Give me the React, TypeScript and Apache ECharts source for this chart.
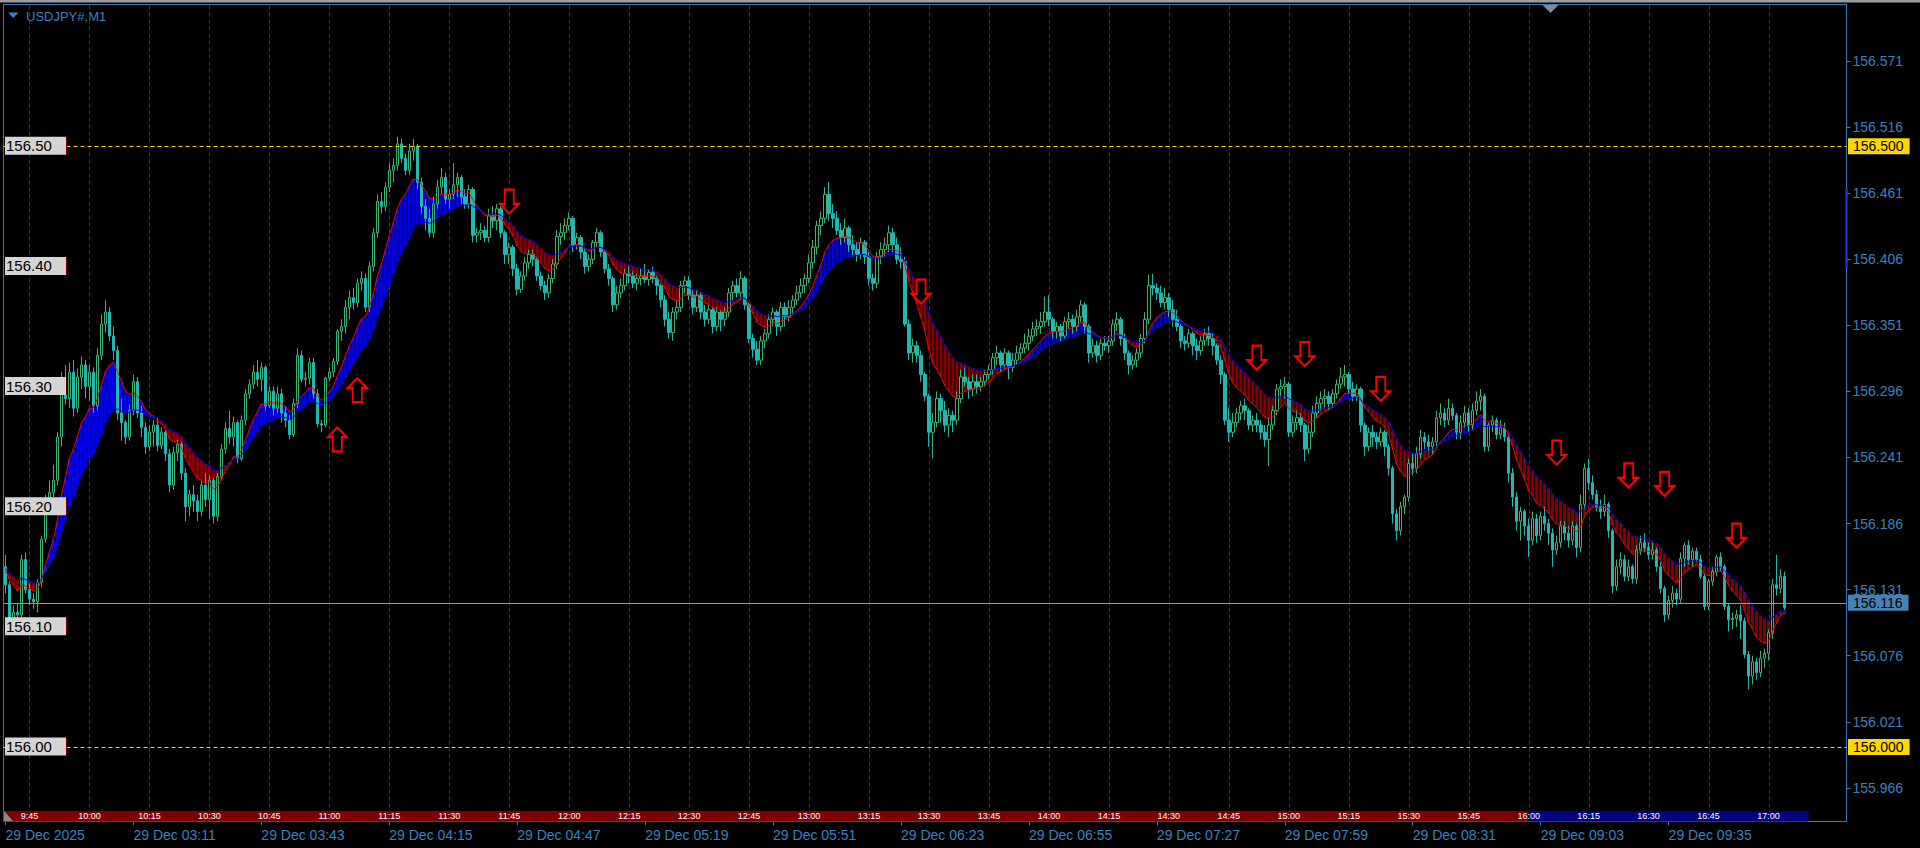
import React, { useEffect, useRef } from "react";
import * as echarts from "echarts";

const SYMBOL_TITLE = "USDJPY#,M1";
const BASE_PRICE = 156.0;
const POINT = 0.001;
const TOTAL_SLOTS = 461;
const Y_MIN = 155.938;
const Y_MAX = 156.618;
const FAST_PERIOD = 10;
const SLOW_PERIOD = 21;

// M1 bars as [open, high, low, close], in points (0.001) above 156.000
const bars0239 = [
  [150,160,128,135],[135,138,96,104],[104,118,95,112],[112,120,105,110],[110,160,108,156],
  [156,162,128,131],[131,136,118,123],[123,128,115,121],[121,140,112,137],[137,176,133,173],
  [173,210,170,206],[206,222,200,212],[212,235,208,222],[222,262,218,258],[258,312,250,305],
  [305,318,285,290],[290,320,282,312],[312,322,275,282],[282,315,278,308],[308,325,298,318],
  [318,322,290,300],[300,318,288,312],[312,316,278,284],[284,332,280,326],[326,360,322,352],
  [352,372,345,362],[362,366,338,342],[342,350,322,330],[330,334,272,278],[278,290,255,270],
  [270,272,252,258],[258,285,255,280],[280,310,276,304],[304,308,274,278],[278,284,258,266],
  [266,270,244,250],[250,268,246,262],[262,272,250,268],[268,274,246,251],[251,266,248,262],
  [262,264,238,244],[244,248,212,218],[218,250,214,245],[245,256,238,252],[252,254,222,228],
  [228,232,188,200],[200,214,192,210],[210,218,196,205],[205,210,188,196],[196,222,192,218],
  [218,228,200,206],[206,226,190,222],[222,224,186,192],[192,228,188,225],[225,252,222,248],
  [248,270,244,265],[265,280,252,258],[258,275,250,270],[270,272,236,240],[240,276,238,272],
];
const bars0339 = [
  [272,298,268,294],[294,306,290,302],[302,318,298,312],[312,322,300,306],[306,320,296,316],
  [316,318,280,284],[284,300,282,296],[296,300,276,282],[282,300,278,294],[294,298,270,278],
  [278,284,266,272],[272,276,256,260],[260,290,258,286],[286,332,282,326],[326,330,304,306],
  [306,312,300,307],[307,324,302,320],[320,324,290,294],[294,298,266,269],[269,272,262,268],
  [268,308,266,307],[307,316,304,312],[312,324,308,321],[321,348,318,346],[346,356,338,350],
  [350,372,344,366],[366,380,356,374],[374,382,364,370],[370,390,366,386],[386,396,380,390],
  [390,394,362,366],[366,404,362,400],[400,432,396,428],[428,460,424,454],[454,462,444,450],
  [450,470,446,466],[466,486,462,480],[480,490,470,484],[484,508,480,502],[502,506,486,490],
  [490,494,476,480],[480,502,476,496],[496,506,488,500],[500,502,464,470],[470,474,444,450],
  [450,456,430,440],[440,448,424,428],[428,458,424,452],[452,472,448,466],[466,482,460,474],
  [474,478,452,456],[456,464,448,460],[460,486,456,468],[468,478,458,474],[474,476,452,458],
  [458,464,448,452],[452,468,448,464],[464,466,420,426],[426,432,420,428],[428,436,422,430],
];
const bars0439 = [
  [430,434,420,424],[424,448,420,442],[442,450,432,438],[438,452,430,448],[448,450,424,428],
  [428,430,402,410],[410,420,402,416],[416,418,392,398],[398,402,376,381],[381,396,378,392],
  [392,408,388,403],[403,414,398,410],[410,414,400,406],[406,408,388,392],[392,396,380,384],
  [384,388,372,378],[378,394,374,390],[390,406,386,402],[402,430,398,425],[425,436,418,428],
  [428,440,422,434],[434,445,430,440],[440,442,412,418],[418,428,414,424],[424,426,406,412],
  [412,416,394,400],[400,410,396,406],[406,422,402,420],[420,432,416,428],[428,430,408,412],
  [412,414,394,398],[398,402,384,390],[390,392,362,368],[368,384,364,378],[378,390,374,384],
  [384,398,380,394],[394,400,386,392],[392,396,382,386],[386,394,380,390],[390,398,384,392],
  [392,402,386,389],[389,398,384,395],[395,400,386,390],[390,392,376,384],[384,386,366,372],
  [372,376,350,356],[356,362,340,345],[345,366,338,362],[362,372,356,366],[366,388,362,384],
  [384,392,378,388],[388,392,372,376],[376,380,360,366],[366,380,362,376],[376,378,356,362],
  [362,368,350,356],[356,368,352,364],[364,366,344,350],[350,366,346,362],[362,364,346,356],
];
const bars0539 = [
  [356,366,350,362],[362,382,358,378],[378,388,372,384],[384,390,374,378],[378,396,372,390],
  [390,392,364,368],[368,370,336,340],[340,344,324,331],[331,338,318,322],[322,342,318,338],
  [338,348,332,344],[344,360,340,356],[356,366,350,362],[362,364,342,350],[350,370,346,366],
  [366,370,350,358],[358,372,354,366],[366,376,360,372],[372,384,368,378],[378,390,374,384],
  [384,394,378,390],[390,410,386,403],[403,422,398,416],[416,438,410,434],[434,446,426,440],
  [440,466,436,460],[460,470,438,444],[444,452,432,440],[440,446,426,430],[430,436,418,424],
  [424,440,420,432],[432,434,412,418],[418,426,408,414],[414,420,404,410],[410,424,406,420],
  [420,422,402,408],[408,412,384,390],[390,394,380,386],[386,412,382,408],[408,420,402,414],
  [414,424,408,418],[418,434,412,428],[428,432,412,418],[418,424,402,406],[406,416,398,404],
  [404,408,350,352],[352,356,322,328],[328,340,320,334],[334,338,320,326],[326,330,304,310],
  [310,312,288,292],[292,294,250,262],[262,278,240,270],[270,296,266,290],[290,294,270,280],
  [280,288,262,268],[268,282,258,276],[276,280,262,272],[272,296,268,290],[290,314,286,308],
];
const bars0639 = [
  [308,316,300,304],[304,308,290,298],[298,310,292,304],[304,310,294,300],[300,308,296,304],
  [304,314,300,310],[310,318,306,314],[314,328,310,324],[324,334,318,328],[328,330,312,318],
  [318,332,314,328],[328,330,306,316],[316,328,312,322],[322,334,318,328],[328,336,322,332],
  [332,344,328,336],[336,348,330,342],[342,354,338,348],[348,356,342,350],[350,362,344,354],
  [354,375,350,362],[362,376,350,356],[356,358,340,346],[346,354,340,350],[350,352,338,342],
  [342,358,340,354],[354,362,348,356],[356,360,344,350],[350,364,346,358],[358,372,354,368],
  [368,370,344,350],[350,352,320,328],[328,340,324,334],[334,338,320,326],[326,340,322,336],
  [336,342,330,334],[334,342,328,338],[338,356,334,352],[352,362,346,356],[356,358,334,340],
  [340,344,322,328],[328,330,310,318],[318,326,314,322],[322,332,316,328],[328,344,324,340],
  [340,362,336,356],[356,393,352,384],[384,394,376,382],[382,386,372,378],[378,384,366,370],
  [370,382,364,374],[374,378,358,364],[364,372,350,356],[356,364,346,350],[350,352,332,338],
  [338,342,330,336],[336,348,332,344],[344,346,326,334],[334,340,322,330],[330,342,326,338],
];
const bars0739 = [
  [338,348,334,344],[344,350,334,340],[340,344,326,334],[334,336,318,322],[322,326,302,310],
  [310,312,268,272],[272,282,254,262],[262,278,258,270],[270,282,266,278],[278,288,272,284],
  [284,290,272,280],[280,282,264,268],[268,276,262,272],[272,278,262,268],[268,272,256,262],
  [262,268,250,256],[256,274,234,268],[268,284,264,280],[280,302,276,298],[298,306,292,300],
  [300,308,290,302],[302,304,258,262],[262,276,258,270],[270,280,264,274],[274,278,262,268],
  [268,270,238,248],[248,268,244,262],[262,284,258,278],[278,292,274,286],[286,296,280,290],
  [290,298,282,292],[292,296,280,286],[286,298,282,294],[294,306,290,302],[302,316,298,308],
  [308,318,300,310],[310,312,294,298],[298,304,288,292],[292,302,288,298],[298,300,262,268],
  [268,270,242,250],[250,266,246,262],[262,268,250,258],[258,262,248,254],[254,266,250,262],
  [262,264,242,250],[250,252,226,232],[232,234,186,194],[194,198,172,180],[180,204,176,200],
  [200,210,194,208],[208,240,204,236],[236,244,226,232],[232,250,228,244],[244,264,240,258],
  [258,262,248,254],[254,260,246,250],[250,258,244,254],[254,280,250,274],[274,286,268,278],
];
const bars0839 = [
  [278,282,266,272],[272,290,268,282],[282,286,272,276],[276,278,256,262],[262,276,256,270],
  [270,284,266,278],[278,282,262,268],[268,286,264,280],[280,296,276,288],[288,298,280,292],
  [292,294,246,250],[250,270,246,268],[268,276,262,272],[272,274,256,260],[260,272,256,266],
  [266,270,254,258],[258,260,220,228],[228,232,200,208],[208,212,180,188],[188,200,172,196],
  [196,198,176,184],[184,190,158,172],[172,196,168,190],[190,194,170,176],[176,196,172,192],
  [192,200,180,186],[186,190,168,178],[178,182,150,164],[164,176,160,170],[170,188,166,184],
  [184,188,172,178],[178,184,166,172],[172,188,168,184],[184,186,158,166],[166,210,162,202],
  [202,236,198,232],[232,240,214,220],[220,226,206,210],[210,214,196,200],[200,206,190,196],
  [196,210,192,202],[202,204,174,180],[180,182,128,134],[134,156,130,150],[150,162,144,156],
  [156,160,138,142],[142,156,138,150],[150,152,136,140],[140,168,136,164],[164,176,160,170],
  [170,178,162,166],[166,170,156,160],[160,170,156,164],[164,166,146,150],[150,154,128,132],
  [132,134,104,110],[110,126,106,122],[122,134,116,128],[128,132,118,123],[123,162,120,157],
];
const bars0939 = [
  [157,170,150,168],[168,172,152,156],[156,166,150,163],[163,166,154,156],[156,160,140,142],
  [142,144,114,117],[117,140,114,138],[138,150,134,146],[146,160,142,158],[158,162,146,150],
  [150,152,114,117],[117,120,96,106],[106,112,98,107],[107,114,100,110],[110,118,90,105],
  [105,108,74,77],[77,80,48,59],[59,76,52,71],[71,74,56,62],[62,80,58,74],
  [74,82,66,78],[78,98,72,95],[95,140,90,135],[135,160,126,132],[132,148,128,142],
  [142,146,114,116],
];

const bottomTimeLabels = [
  "29 Dec 2025", "29 Dec 03:11", "29 Dec 03:43", "29 Dec 04:15", "29 Dec 04:47",
  "29 Dec 05:19", "29 Dec 05:51", "29 Dec 06:23", "29 Dec 06:55", "29 Dec 07:27",
  "29 Dec 07:59", "29 Dec 08:31", "29 Dec 09:03", "29 Dec 09:35",
];
const BOTTOM_LABEL_STEP = 32;

const sessionMarkBars = [6,21,36,51,66,81,96,111,126,141,156,171,186,201,216,231,246,261,276,291,306,321,336,351,366,381,396,411,426,441];
const sessionMarkLabels = ["9:45","10:00","10:15","10:30","10:45","11:00","11:15","11:30","11:45","12:00","12:15","12:30","12:45","13:00","13:15","13:30","13:45","14:00","14:15","14:30","14:45","15:00","15:15","15:30","15:45","16:00","16:15","16:30","16:45","17:00"];
const sessionBands = [[0, 381, 0], [381, 451, 1]];

const priceTicks = [155.966, 156.021, 156.076, 156.131, 156.186, 156.241, 156.296, 156.351, 156.406, 156.461, 156.516, 156.571];
const leftLevels = [156.5, 156.4, 156.3, 156.2, 156.1, 156.0];
const leftLevelLabels = ["156.50", "156.40", "156.30", "156.20", "156.10", "156.00"];
const yellowLevels = [156.5, 156.0];
const yellowLevelLabels = ["156.500", "156.000"];
const currentPrice = 156.116;
const currentPriceLabel = "156.116";
const upArrows = [[83, 156.256], [88, 156.297]];
const downArrows = [[126, 156.454], [229, 156.379], [313, 156.324], [325, 156.327], [344, 156.298], [388, 156.245], [406, 156.226], [415, 156.219], [433, 156.176]];
const spreadRange = [156.398, 156.465];

const FONT = "'Liberation Sans', Arial, sans-serif";
const TEXT_BLUE = "#3d80c2";
const BORDER_BLUE = "#3a78b8";
const BULL = "#3cb371";
const BEAR = "#22b8b2";

const UP_PATH = "path://M10.5,0L21,10.5L15.5,10.5L15.5,26L5.5,26L5.5,10.5L0,10.5Z";
const DOWN_PATH = "path://M5.5,0L15.5,0L15.5,15.5L21,15.5L10.5,26L0,15.5L5.5,15.5Z";

function ema(values: number[], period: number, seed: number): number[] {
  const k = 2 / (period + 1);
  let prev = seed;
  return values.map((v) => (prev = prev + k * (v - prev)));
}

function buildOption() {
  const allBars = [...bars0239, ...bars0339, ...bars0439, ...bars0539, ...bars0639, ...bars0739, ...bars0839, ...bars0939];
  const px = (pt: number) => +(BASE_PRICE + pt * POINT).toFixed(3);
  const candleData = allBars.map(([o, h, l, c]) => [px(o), px(c), px(l), px(h)]);
  const closes = allBars.map((b) => px(b[3]));
  const seed = px(allBars[0][0]);
  const fast = ema(closes, FAST_PERIOD, seed);
  const slow = ema(closes, SLOW_PERIOD, seed);
  const bandData = closes.map((_, i) => [i, fast[i], slow[i]]);
  const slots = Array.from({ length: TOTAL_SLOTS }, (_, i) => String(i));
  const showBottom = (index: number) => index % BOTTOM_LABEL_STEP === 0 && index / BOTTOM_LABEL_STEP < bottomTimeLabels.length;

  const STRIP_H = 10.5;

  return {
    animation: false,
    backgroundColor: "#000000",
    grid: { left: 3.5, right: 73.5, top: 4.5, bottom: 26.5, show: true, backgroundColor: "#000000", borderColor: BORDER_BLUE, borderWidth: 1 },
    xAxis: {
      type: "category",
      data: slots,
      boundaryGap: true,
      axisLine: { show: false },
      axisTick: { show: true, alignWithLabel: true, interval: showBottom, length: 4, lineStyle: { color: BORDER_BLUE } },
      axisLabel: {
        interval: showBottom,
        formatter: (_v: string, idx: number) => bottomTimeLabels[Math.round(idx / BOTTOM_LABEL_STEP)] || "",
        align: "left",
        color: TEXT_BLUE,
        fontSize: 14,
        fontFamily: FONT,
        margin: 6,
      },
      splitLine: { show: false },
    },
    yAxis: {
      type: "value",
      position: "right",
      min: Y_MIN,
      max: Y_MAX,
      scale: true,
      splitLine: { show: false },
      axisLine: { show: true, lineStyle: { color: BORDER_BLUE } },
      axisTick: { show: true, length: 4, customValues: priceTicks, lineStyle: { color: BORDER_BLUE } },
      axisLabel: { customValues: priceTicks, formatter: (v: number) => v.toFixed(3), color: TEXT_BLUE, fontSize: 14, fontFamily: FONT, margin: 6 },
    },
    graphic: [
      { type: "rect", shape: { x: 0, y: 0, width: 1920, height: 2.5 }, style: { fill: "#9c9c9c" }, silent: true },
      { type: "polygon", shape: { points: [[8, 12.5], [18.5, 12.5], [13.25, 18]] }, style: { fill: TEXT_BLUE }, silent: true },
      { type: "text", x: 26, y: 16.5, style: { text: SYMBOL_TITLE, fill: TEXT_BLUE, fontSize: 13, fontFamily: FONT, align: "left", verticalAlign: "middle", textAlign: "left", textVerticalAlign: "middle" }, silent: true },
      { type: "polygon", shape: { points: [[1542.5, 5], [1558.5, 5], [1550.5, 13]] }, style: { fill: "#7b8b9b" }, silent: true },
      { type: "polygon", z: 100, shape: { points: [[4, 811], [4, 821], [13, 821]] }, style: { fill: "#8a8a8a" }, silent: true },
    ],
    series: [
      {
        type: "custom",
        name: "gridLines",
        z: 1,
        silent: true,
        data: sessionMarkBars.map((b) => [b, Y_MIN]),
        renderItem: (params: any, api: any) => {
          const cs = params.coordSys;
          const x = Math.round(api.coord([api.value(0), Y_MIN])[0]) + 0.5;
          return { type: "line", shape: { x1: x, y1: cs.y + 1, x2: x, y2: cs.y + cs.height - STRIP_H }, style: { stroke: "#2f3d3b", lineWidth: 1, lineDash: [4, 3] } };
        },
      },
      {
        type: "custom",
        name: "maBand",
        z: 2,
        silent: true,
        data: bandData,
        encode: { x: 0, y: [1, 2] },
        renderItem: (_params: any, api: any) => {
          const i = api.value(0);
          const f = api.value(1);
          const s = api.value(2);
          const a = api.coord([i, f]);
          const b = api.coord([i, s]);
          const top = Math.min(a[1], b[1]);
          const h = Math.max(Math.abs(a[1] - b[1]), 0.5);
          return { type: "rect", shape: { x: a[0] - 1.5, y: top, width: 3, height: h }, style: { fill: f >= s ? "#0000e0" : "#850000" } };
        },
      },
      {
        type: "candlestick",
        name: "USDJPY#",
        z: 3,
        barWidth: 3,
        silent: true,
        data: candleData,
        itemStyle: { color: "#000000", color0: BEAR, borderColor: BULL, borderColor0: BEAR, borderWidth: 1 },
        markLine: {
          silent: true,
          symbol: ["none", "none"],
          data: [
            ...yellowLevels.map((v, i) => ({
              yAxis: v,
              lineStyle: { color: "#ffd700", type: [4, 3], width: 1 },
              label: { show: true, position: "end", distance: 1.5, formatter: yellowLevelLabels[i], backgroundColor: "#ffd700", color: "#000", fontSize: 14, fontFamily: FONT, padding: [1, 6, 1, 5], lineHeight: 14 },
            })),
            {
              yAxis: currentPrice,
              lineStyle: { color: "#8a9aa8", type: "solid", width: 1 },
              label: { show: true, position: "end", distance: 1.5, formatter: currentPriceLabel, backgroundColor: "#4682b4", color: "#000", fontSize: 14, fontFamily: FONT, padding: [1, 6, 1, 5], lineHeight: 14 },
            },
          ],
        },
      },
      { type: "line", name: "fastMA", z: 4, silent: true, data: fast, symbol: "none", showSymbol: false, lineStyle: { color: "#ff0000", width: 1 } },
      { type: "line", name: "slowMA", z: 4, silent: true, data: slow, symbol: "none", showSymbol: false, lineStyle: { color: "#0000ff", width: 1 } },
      { type: "scatter", name: "upSignals", z: 6, silent: true, data: upArrows, symbol: UP_PATH, symbolSize: [19, 24], itemStyle: { color: "#000", borderColor: "#ff0000", borderWidth: 2, opacity: 1 } },
      { type: "scatter", name: "downSignals", z: 6, silent: true, data: downArrows, symbol: DOWN_PATH, symbolSize: [19, 24], itemStyle: { color: "#000", borderColor: "#ff0000", borderWidth: 2, opacity: 1 } },
      {
        type: "custom",
        name: "sessionStrip",
        z: 8,
        silent: true,
        data: sessionBands.map(([a, b, c]) => [a, b, c]),
        renderItem: (params: any, api: any) => {
          const cs = params.coordSys;
          const from = api.value(0);
          const to = api.value(1);
          const x0 = from === 0 ? cs.x : api.coord([from, Y_MIN])[0];
          const x1 = api.coord([to, Y_MIN])[0];
          return { type: "rect", shape: { x: x0, y: cs.y + cs.height - STRIP_H, width: x1 - x0, height: STRIP_H }, style: { fill: api.value(2) === 0 ? "#800000" : "#000080" } };
        },
      },
      {
        type: "custom",
        name: "sessionLabels",
        z: 9,
        silent: true,
        data: sessionMarkBars.map((b) => [b, Y_MIN]),
        renderItem: (params: any, api: any) => {
          const cs = params.coordSys;
          const x = api.coord([api.value(0), Y_MIN])[0];
          return {
            type: "text",
            x,
            y: cs.y + cs.height - STRIP_H / 2,
            style: { text: sessionMarkLabels[params.dataIndex], fill: "#ffffff", fontSize: 9, fontFamily: "'Liberation Sans Narrow', 'Liberation Sans', Arial, sans-serif", align: "center", verticalAlign: "middle", textAlign: "center", textVerticalAlign: "middle" },
          };
        },
      },
      {
        type: "custom",
        name: "leftLevels",
        z: 10,
        silent: true,
        data: leftLevels.map((p) => [0, p]),
        renderItem: (params: any, api: any) => {
          const cs = params.coordSys;
          const y = api.coord([0, api.value(1)])[1];
          return {
            type: "group",
            children: [
              { type: "rect", shape: { x: cs.x + 1.5, y: y - 9.5, width: 61, height: 18 }, style: { fill: "#d4d4d4" } },
              { type: "rect", shape: { x: cs.x + 62.5, y: y - 9.5, width: 1, height: 18 }, style: { fill: "#7a0000" } },
              { type: "text", x: cs.x + 2.5, y: y - 0.5, style: { text: leftLevelLabels[params.dataIndex], fill: "#000000", fontSize: 15, fontFamily: FONT, align: "left", verticalAlign: "middle", textAlign: "left", textVerticalAlign: "middle" } },
            ],
          };
        },
      },
      {
        type: "custom",
        name: "spreadBar",
        z: 10,
        silent: true,
        data: [[0, spreadRange[0], spreadRange[1]]],
        renderItem: (params: any, api: any) => {
          const cs = params.coordSys;
          const y0 = api.coord([0, api.value(2)])[1];
          const y1 = api.coord([0, api.value(1)])[1];
          return { type: "rect", shape: { x: cs.x + cs.width - 1, y: y0, width: 2, height: y1 - y0 }, style: { fill: "#1f3fe0" } };
        },
      },
    ],
  };
}

export default function App() {
  const ref = useRef<HTMLDivElement>(null);
  useEffect(() => {
    document.body.style.margin = "0";
    document.body.style.background = "#000";
    const chart = echarts.init(ref.current as HTMLDivElement, null, { renderer: "svg" });
    chart.setOption(buildOption() as any);
    return () => chart.dispose();
  }, []);
  return <div ref={ref} style={{ position: "fixed", left: 0, top: 0, width: 1920, height: 848, background: "#000" }} />;
}
